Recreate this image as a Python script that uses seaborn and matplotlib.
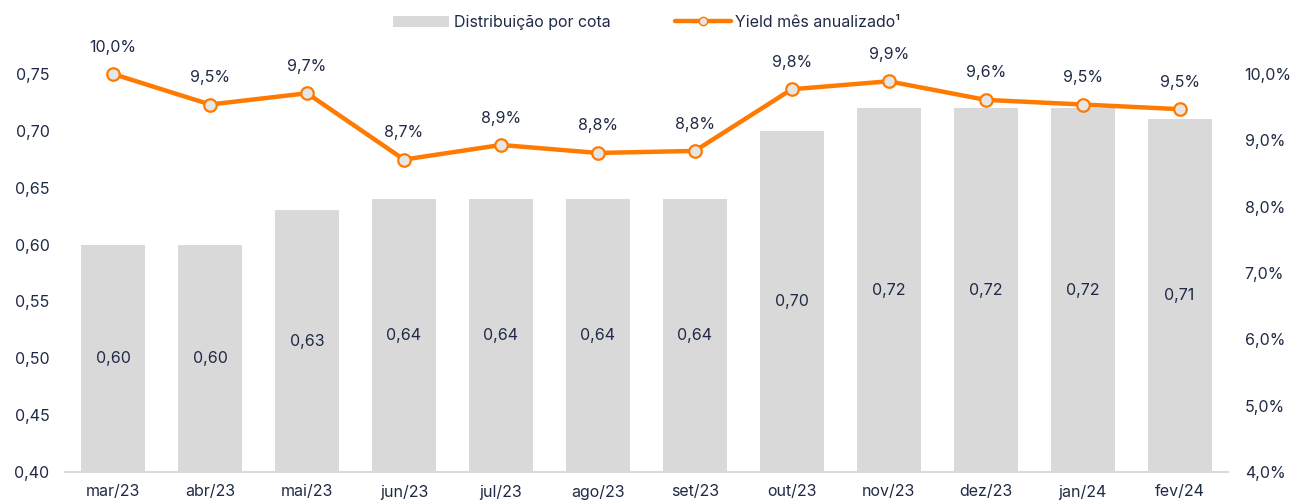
import matplotlib
matplotlib.use("Agg")
import matplotlib.pyplot as plt
import seaborn as sns
import pandas as pd
from matplotlib.lines import Line2D
from matplotlib.patches import Patch

months = ["mar/23", "abr/23", "mai/23", "jun/23", "jul/23", "ago/23",
          "set/23", "out/23", "nov/23", "dez/23", "jan/24", "fev/24"]
distribuicao = [0.60, 0.60, 0.63, 0.64, 0.64, 0.64, 0.64, 0.70, 0.72, 0.72, 0.72, 0.71]
yield_anual = [10.0, 9.54, 9.71, 8.71, 8.93, 8.81, 8.84, 9.77, 9.89, 9.61, 9.54, 9.47]
left_ticks = [0.40, 0.45, 0.50, 0.55, 0.60, 0.65, 0.70, 0.75]
right_ticks = [4.0, 5.0, 6.0, 7.0, 8.0, 9.0, 10.0]

sns.set_style("white")
plt.rcParams["font.family"] = ["Inter", "DejaVu Sans"]
txt = "#1f2a44"
orange = "#FF7A00"
bar_c = "#D9D9D9"
fs = 11.5

df = pd.DataFrame({"mes": months, "dist": distribuicao, "yield": yield_anual})

fig = plt.figure(figsize=(12.94, 5.0), dpi=100)
ax = fig.add_axes([0.050, 0.056, 0.899, 0.796])
sns.barplot(data=df, x="mes", y="dist", color=bar_c, width=0.66, ax=ax,
            saturation=1, edgecolor="none")
ax.set_ylim(0.40, 0.75)
ax.set_yticks(left_ticks)
ax.set_yticklabels([f"{v:.2f}".replace(".", ",") for v in left_ticks])
ax.set_xlabel("")
ax.set_ylabel("")
ax.set_xlim(-0.5, len(months) - 0.5)
for s in ["top", "right", "left"]:
    ax.spines[s].set_visible(False)
ax.spines["bottom"].set_color("#d9d9d9")
ax.spines["bottom"].set_linewidth(1.5)
ax.tick_params(axis="both", length=0, labelsize=fs, colors=txt, pad=9)
ax.tick_params(axis="y", pad=11)

for i, v in enumerate(distribuicao):
    ax.text(i, (0.40 + v) / 2, f"{v:.2f}".replace(".", ","), ha="center",
            va="center", fontsize=fs, color=txt)

ax2 = ax.twinx()
ax2.set_ylim(4.0, 10.0)
ax2.plot(range(len(months)), yield_anual, color=orange, lw=3.2, marker="o",
         markersize=9, markerfacecolor="#E6E6E6", markeredgecolor=orange,
         markeredgewidth=1.6, clip_on=False, zorder=5)
ax2.set_yticks(right_ticks)
ax2.set_yticklabels([f"{v:.1f}%".replace(".", ",") for v in right_ticks])
ax2.tick_params(axis="y", length=0, labelsize=fs, colors=txt, pad=12)
for s in ["top", "right", "left", "bottom"]:
    ax2.spines[s].set_visible(False)
for i, v in enumerate(yield_anual):
    ax2.annotate(f"{v:.1f}%".replace(".", ","), (i, v), xytext=(0, 14),
                 textcoords="offset points", ha="center", va="bottom",
                 fontsize=fs, color=txt, annotation_clip=False)

handles = [Patch(facecolor=bar_c, edgecolor="none"),
           Line2D([0], [0], color=orange, lw=3.2, marker="o", markersize=6,
                  markerfacecolor="#E6E6E6", markeredgecolor=orange)]
fig.legend(handles, ["Distribuição por cota", "Yield mês anualizado¹"],
           loc="center", bbox_to_anchor=(0.5, 0.955), ncol=2, frameon=False,
           fontsize=fs, labelcolor=txt, columnspacing=4.0, handlelength=3.5,
           handletextpad=0.3)

fig.savefig("out.png", dpi=100)
